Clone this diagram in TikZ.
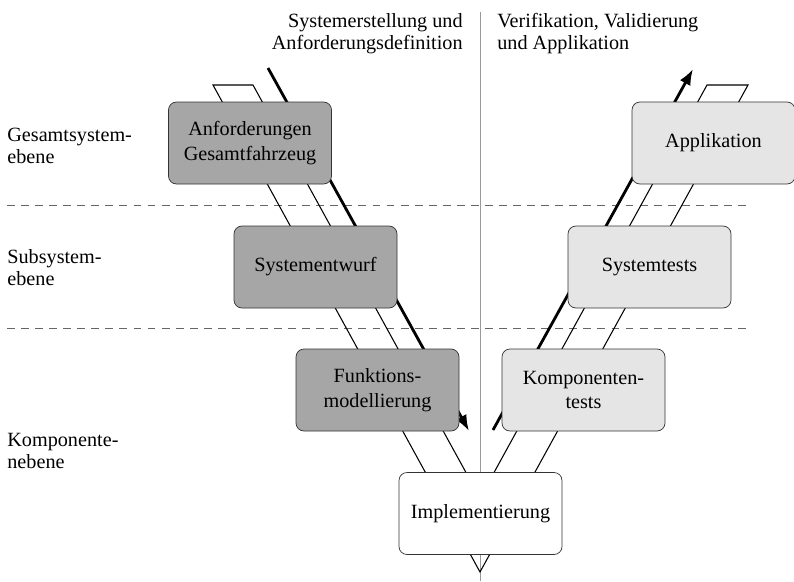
\documentclass[tikz,border=0pt]{standalone}
\usepackage{fontspec}
\setmainfont{Liberation Serif}
\usetikzlibrary{arrows.meta}
\definecolor{dunkel}{gray}{0.65}
\definecolor{hell}{gray}{0.9}
\tikzset{
  phase/.style={draw=black!80, rounded corners=0.16cm, minimum width=3.26cm,
    minimum height=1.64cm, align=center, font=\fontsize{11.5}{14}\selectfont},
  entwurf/.style={phase, fill=dunkel},
  test/.style={phase, fill=hell},
  ebene/.style={anchor=north west, align=left, inner sep=0pt,
    font=\fontsize{11.5}{12.5}\selectfont},
  ebenenlinie/.style={dash pattern=on 4.5pt off 3.5pt, black!60},
  pfeil/.style={line width=1.6pt, -{Latex[length=0.32cm, width=0.24cm]}},
}

\begin{document}
\begin{tikzpicture}
  \useasboundingbox (0,0) rectangle (15.88,11.62);

  % Mittellinie und Ebenen
  \draw [black!40] (9.6, 0) -- (9.6, 11.38);
  \draw [ebenenlinie] (0.14, 7.52) -- (14.96, 7.52);
  \draw [ebenenlinie] (0.14, 5.06) -- (14.96, 5.06);

  % V
  \coordinate (ol) at (4.26, 9.92);
  \coordinate (il) at (5.06, 9.92);
  \coordinate (ir) at (14.14, 9.92);
  \coordinate (or) at (14.96, 9.92);
  \coordinate (ob) at (9.6, 0.18);
  \coordinate (ib) at (9.6, 1.66);
  \draw [line width=0.6pt] (il) -- (ol) -- (ob) -- (or) -- (ir) -- (ib) -- cycle;

  \coordinate (ab) at (5.36, 10.26);
  \coordinate (an) at (9.38, 3.0);
  \coordinate (auf) at (9.86, 3.02);
  \coordinate (aufe) at (13.86, 10.24);
  \draw [pfeil] (ab) -- (an);
  \draw [pfeil] (auf) -- (aufe);

  % Phasen
  \node [entwurf] (anf) at (5.0, 8.76) {Anforderungen\\Gesamtfahrzeug};
  \node [entwurf] (sysent) at (6.31, 6.28) {Systementwurf};
  \node [entwurf] (fkt) at (7.55, 3.82) {Funktions-\\modellierung};
  \node [phase, fill=white] (impl) at (9.61, 1.35) {Implementierung};
  \node [test] (komp) at (11.67, 3.82) {Komponenten-\\tests};
  \node [test] (systest) at (12.99, 6.28) {Systemtests};
  \node [test] (app) at (14.27, 8.76) {Applikation};

  % Beschriftungen
  \node [ebene, anchor=north east, align=right] (links) at (9.26, 11.36)
    {Systemerstellung und\\Anforderungsdefinition};
  \node [ebene] (rechts) at (9.94, 11.36) {Verifikation, Validierung\\und Applikation};
  \node [ebene] (gesamt) at (0.14, 9.06) {Gesamtsystem-\\ebene};
  \node [ebene] (sub) at (0.14, 6.64) {Subsystem-\\ebene};
  \node [ebene] (komponente) at (0.14, 2.96) {Komponente-\\nebene};
\end{tikzpicture}
\end{document}
